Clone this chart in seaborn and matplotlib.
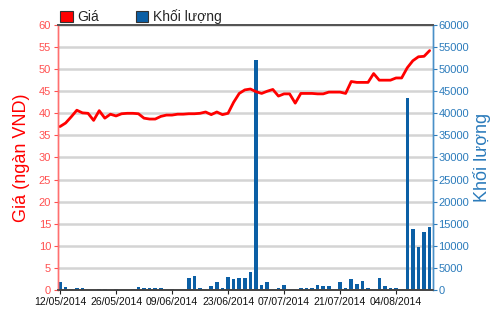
import numpy as np
import pandas as pd
import matplotlib
matplotlib.use("Agg")
import matplotlib.pyplot as plt
from matplotlib.patches import Patch
import seaborn as sns

# ---- data ----
dates = pd.bdate_range("2014-05-12", "2014-08-12")
price = [37.0, 37.8, 39.2, 40.7, 40.1, 40.0, 38.4, 40.6, 38.9, 39.8,
         39.4, 39.9, 40.0, 40.0, 39.9, 38.9, 38.7, 38.7, 39.3, 39.6,
         39.6, 39.8, 39.8, 39.9, 39.9, 40.0, 40.3, 39.7, 40.3, 39.7,
         40.0, 42.5, 44.5, 45.3, 45.5, 44.9, 44.5, 45.0, 45.4, 43.9,
         44.4, 44.4, 42.3, 44.5, 44.5, 44.5, 44.4, 44.4, 44.8, 44.8,
         44.8, 44.5, 47.2, 47.0, 47.0, 47.0, 49.0, 47.5, 47.5, 47.5,
         48.0, 48.0, 50.3, 51.9, 52.8, 52.9, 54.2]
volume = [1900, 700, 300, 450, 450, 0, 0, 300, 300, 0,
          300, 0, 0, 300, 700, 350, 350, 350, 350, 0,
          300, 0, 0, 2700, 3200, 350, 0, 900, 1850, 350,
          3000, 2500, 2700, 2700, 4000, 52000, 1150, 1850, 0, 350,
          1150, 0, 0, 450, 450, 450, 1150, 900, 900, 0,
          1850, 350, 2500, 1400, 2150, 350, 0, 2700, 900, 450,
          350, 0, 43400, 13700, 9800, 13200, 14200]
tick_labels = ["12/05/2014", "26/05/2014", "09/06/2014", "23/06/2014",
               "07/07/2014", "21/07/2014", "04/08/2014"]
price_ticks = list(range(0, 61, 5))
volume_ticks = list(range(0, 60001, 5000))

df = pd.DataFrame({"idx": np.arange(len(price)), "price": price, "volume": volume})

sns.set_theme(style="white")
plt.rcParams["font.family"] = ["Liberation Sans Narrow", "Liberation Sans", "DejaVu Sans"]

RED = "#ff0000"
RED_T = "#ff5050"
BLUE = "#0b5fa5"
BLUE_T = "#2b7bbb"

fig = plt.figure(figsize=(5.0, 3.12), dpi=100)
ax = fig.add_axes([0.116, 0.0705, 0.75, 0.8495])
ax2 = ax.twinx()

# bars on the right (volume) axis, drawn below
sns.barplot(data=df, x="idx", y="volume", ax=ax2, color=BLUE, saturation=1,
            width=0.62, native_scale=True, edgecolor="none")
ax2.set_ylim(0, 60000)
ax2.set_yticks(volume_ticks)
ax2.set_yticklabels([str(v) for v in volume_ticks])
ax2.yaxis.grid(True, color="#d4d4d4", linewidth=1.8)
ax2.set_axisbelow(True)
ax2.set_ylabel("Khối lượng", color=BLUE_T, fontsize=13, rotation=90, labelpad=3)
ax2.tick_params(axis="y", colors=BLUE_T, labelsize=8, length=3, width=0.8, pad=1, direction="out")

# line on left axis, drawn on top
ax.set_zorder(ax2.get_zorder() + 1)
ax.patch.set_visible(False)
sns.lineplot(data=df, x="idx", y="price", ax=ax, color=RED, linewidth=2.0)
ax.set_ylim(0, 60)
ax.set_yticks(price_ticks)
ax.set_ylabel("Giá (ngàn VND)", color=RED, fontsize=13, labelpad=6)
ax.tick_params(axis="y", colors=RED_T, labelsize=8, length=3, width=0.8, pad=2, direction="out")
ax.set_xlim(-0.36, 66.6)
ax2.set_xlim(-0.36, 66.6)
ax.set_xticks(list(range(0, 61, 10)))
ax.set_xticklabels(tick_labels)
ax.set_xlabel("")
ax2.set_xlabel("")
ax.tick_params(axis="x", colors="#222222", labelsize=7.5, length=3, width=0.8, pad=2,
               direction="out", bottom=True)
for t in ax.get_xticklabels():
    t.set_color("#111111")

for a in (ax, ax2):
    a.spines["top"].set_color("#555555")
    a.spines["top"].set_linewidth(1.4)
    a.spines["bottom"].set_color("#444444")
    a.spines["bottom"].set_linewidth(1.2)
    a.spines["left"].set_color("#ff7070")
    a.spines["left"].set_linewidth(1.0)
    a.spines["right"].set_color("#4a90c8")
    a.spines["right"].set_linewidth(1.0)

handles = [Patch(facecolor=RED, edgecolor="#333333", linewidth=0.8),
           Patch(facecolor=BLUE, edgecolor="#333333", linewidth=0.8)]
fig.legend(handles, ["Giá", "Khối lượng"], loc="lower left",
           bbox_to_anchor=(0.118, 0.918), ncol=2, frameon=False,
           handlelength=0.9, handleheight=0.9, handletextpad=0.35,
           columnspacing=2.6, borderaxespad=0, borderpad=0.1,
           prop={"size": 10, "family": ["Liberation Sans", "DejaVu Sans"]})

fig.savefig("out.png", dpi=100, facecolor="white")
